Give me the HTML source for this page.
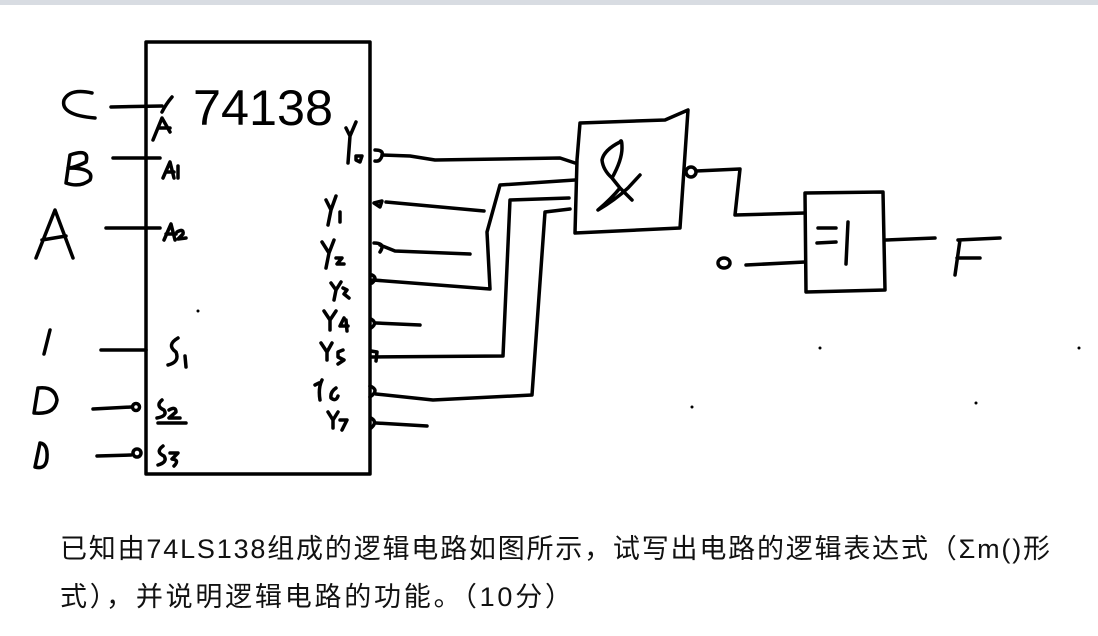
<!DOCTYPE html>
<html><head><meta charset="utf-8"><style>
html,body{margin:0;padding:0;background:#fff;width:1098px;height:636px;overflow:hidden}
svg{display:block}
</style></head><body>
<svg width="1098" height="636" viewBox="0 0 1098 636" xmlns="http://www.w3.org/2000/svg">
<rect x="0" y="0" width="1098" height="636" fill="#fff"/>
<rect x="0" y="0" width="1098" height="5" fill="#d8dce2"/>
<g fill="none" stroke="#000" stroke-width="3.5" stroke-linecap="round" stroke-linejoin="round">
<rect x="146" y="42" width="224" height="432"/>
<path d="M111 107 L162 106"/>
<path d="M113 158 L160 158"/>
<path d="M106 228 L160 228"/>
<path d="M101 350 L146 350"/>
<path d="M93 409 L131 407"/>
<circle cx="136" cy="407" r="3.5"/>
<path d="M97 456 L131 455"/>
<circle cx="137" cy="453" r="4"/>
<path d="M375 150 Q384 150 382 156 Q380 162 375 161"/>
<path d="M382 155 L410 156 L435 160 L560 158 L575 163"/>
<path d="M374 203 L382 201 L380 207 Z"/>
<path d="M386 202 L484 211"/>
<path d="M374 243 Q386 243 380 252"/>
<path d="M380 245 L395 251 L470 254"/>
<path d="M372 275 Q378 278 372 283"/>
<path d="M373 280 L490 289 L487 232 L500 185 L575 180"/>
<path d="M371 319 Q378 323 371 328"/>
<path d="M376 323 L420 325"/>
<path d="M371 351 L377 352 L376 361"/>
<path d="M372 357 L503 356 L510 200 L569 198"/>
<path d="M370 386 Q380 390 370 397"/>
<path d="M376 394 L433 400 L532 395 L545 212 L570 209"/>
<path d="M371 418 Q378 422 371 428"/>
<path d="M376 423 L427 426"/>
<path d="M580 123 L665 120 L688 110 L680 228 L575 233 L577 160 Z"/>
<path d="M620 142 Q604 150 602 160 Q603 170 612 178 L620 188 Q612 198 598 210 Q615 200 628 188 L640 175 M620 188 L632 200 M612 178 Q622 160 622 148 Q622 138 620 142"/>
<circle cx="691" cy="172" r="5"/>
<path d="M696 171 L740 169 L735 215 L805 213"/>
<path d="M805 193 L883 192 L885 290 L806 292 Z"/>
<path d="M818 228 L836 228 M817 243 L836 242 M848 222 L846 264"/>
<path d="M746 265 L805 262"/>
<path d="M886 240 L935 238"/>
<ellipse cx="724" cy="263" rx="6" ry="5"/>
<path d="M955 275 L960 240 M958 240 L1000 238 M957 258 L980 258"/>
<path d="M92 93 Q70 88 64 100 Q60 115 95 118"/>
<path d="M66 183 L70 155 Q90 148 86 162 Q74 168 68 168 Q95 168 90 180 Q80 188 66 183"/>
<path d="M36 258 L55 210 L73 258 M42 240 L66 236"/>
<path d="M50 330 L44 354"/>
<path d="M38 388 L34 413 Q55 415 57 400 Q55 386 38 388"/>
<path d="M40 443 L35 467 Q46 470 47 458 Q48 444 40 443"/>
<path d="M172 97 Q166 104 162 112"/>
<path d="M153 140 L162 118 L170 132 M158 128 L170 128"/>
<path d="M163 178 L170 162 L174 178 M166 172 L174 172 M178 166 L178 178"/>
<path d="M164 240 L171 224 L175 240 M166 234 L176 234 M177 232 Q184 228 183 234 L178 239 L186 238"/>
<path d="M178 338 Q166 345 176 352 Q180 362 168 365 M185 356 L186 367"/>
<path d="M162 400 Q155 406 164 410 Q168 416 157 418 M169 410 Q176 406 176 412 L169 418 L180 418 M158 423 L186 423"/>
<path d="M163 446 Q155 452 164 456 Q168 462 158 465 M170 453 L178 453 L172 459 Q180 460 174 466"/>
<path d="M346 128 L350 136 L348 163 M356 122 L350 136"/>
<path d="M356 156 L362 156 L360 162 L356 160 Z"/>
<path d="M326 200 L331 210 L328 225 M336 196 L331 210 M340 212 L340 222"/>
<path d="M322 242 L329 253 L326 268 M334 240 L329 253 M336 258 L342 258 L337 264 L344 264"/>
<path d="M331 283 L336 290 L334 300 M341 282 L336 290 M343 288 L347 290 L344 294 L349 298"/>
<path d="M324 311 L330 320 L330 330 M336 311 L330 320 M344 318 L340 326 L348 326 M346 320 L347 331"/>
<path d="M321 343 L327 352 L327 360 M332 343 L327 352 M343 350 L338 352 L338 357 L344 360 L338 364"/>
<path d="M315 385 L319 383 M322 380 Q318 388 320 400 M336 388 Q330 392 331 398 Q336 402 338 396"/>
<path d="M328 412 L333 420 L333 428 M338 412 L333 420 M340 420 L347 420 L342 430"/>
</g>
<text x="193" y="125" font-family="Liberation Sans, sans-serif" font-size="50" fill="#000" textLength="140" lengthAdjust="spacingAndGlyphs">74138</text>
<text x="60" y="558" font-family="Liberation Sans, 'Noto Sans CJK SC', sans-serif" font-size="27" fill="#111" textLength="990" lengthAdjust="spacing">已知由74LS138组成的逻辑电路如图所示，试写出电路的逻辑表达式（Σm()形</text>
<text x="60" y="606" font-family="Liberation Sans, 'Noto Sans CJK SC', sans-serif" font-size="27" fill="#111" textLength="512" lengthAdjust="spacing">式），并说明逻辑电路的功能。（10分）</text>
<g fill="#000"><circle cx="198" cy="311" r="1.5"/><circle cx="820" cy="348" r="1.5"/><circle cx="1079" cy="348" r="1.5"/><circle cx="692" cy="407" r="1.5"/><circle cx="976" cy="403" r="1.5"/></g>
</svg>
</body></html>
